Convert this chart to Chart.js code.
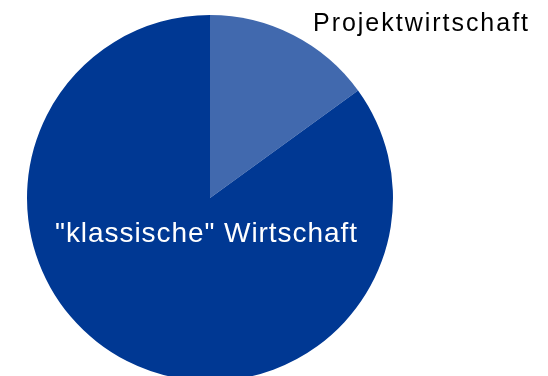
<!DOCTYPE html>
<html>
<head>
<meta charset="utf-8">
<script src="https://cdn.jsdelivr.net/npm/chart.js@4/dist/chart.umd.min.js"></script>
<style>
  html, body { margin: 0; padding: 0; background: #ffffff; overflow: hidden; }
  #wrap { position: relative; width: 548px; height: 386px; }
</style>
</head>
<body>
<div id="wrap"><canvas id="chart" width="548" height="386"></canvas></div>
<script>
// Anteile der Wirtschaftsformen (in Prozent)
const categories = ['Projektwirtschaft', '"klassische" Wirtschaft'];
const shares = [15, 85];
const sliceColors = ['#4169ae', '#003893'];

// Text mit fester Breite zeichnen (Zeichenabstand wird verteilt)
function spacedText(ctx, text, x, y, targetWidth, align) {
  ctx.letterSpacing = '0px';
  const natural = ctx.measureText(text).width;
  const gap = (targetWidth - natural) / Math.max(1, text.length - 1);
  ctx.letterSpacing = gap + 'px';
  ctx.textAlign = 'left';
  let startX = x;
  if (align === 'center') startX = x - targetWidth / 2;
  if (align === 'right') startX = x - targetWidth;
  ctx.fillText(text, startX, y);
  ctx.letterSpacing = '0px';
}

// Zeichnet die Beschriftungen der beiden Segmente
const sliceLabels = {
  id: 'sliceLabels',
  afterDatasetsDraw(chart) {
    const ctx = chart.ctx;
    const arcs = chart.getDatasetMeta(0).data;
    ctx.save();
    ctx.textBaseline = 'alphabetic';

    // Außenbeschriftung des kleinen Segments, rechts oben
    ctx.font = '25px "Liberation Sans", Arial, sans-serif';
    ctx.fillStyle = '#000000';
    spacedText(ctx, categories[0], 528, 31, 215, 'right');

    // Innenbeschriftung des großen Segments
    const big = arcs[1];
    ctx.font = '28px "Liberation Sans", Arial, sans-serif';
    ctx.fillStyle = '#ffffff';
    spacedText(ctx, categories[1], big.x - 4, big.y + 44, 302, 'center');
    ctx.restore();
  }
};

new Chart(document.getElementById('chart'), {
  type: 'pie',
  data: {
    labels: categories,
    datasets: [{
      data: shares,
      backgroundColor: sliceColors,
      borderWidth: 0,
      hoverOffset: 0
    }]
  },
  options: {
    responsive: false,
    animation: false,
    layout: { padding: { left: 27, right: 155, top: 15, bottom: 5 } },
    plugins: {
      legend: { display: false },
      tooltip: { enabled: false }
    }
  },
  plugins: [sliceLabels]
});
</script>
</body>
</html>
